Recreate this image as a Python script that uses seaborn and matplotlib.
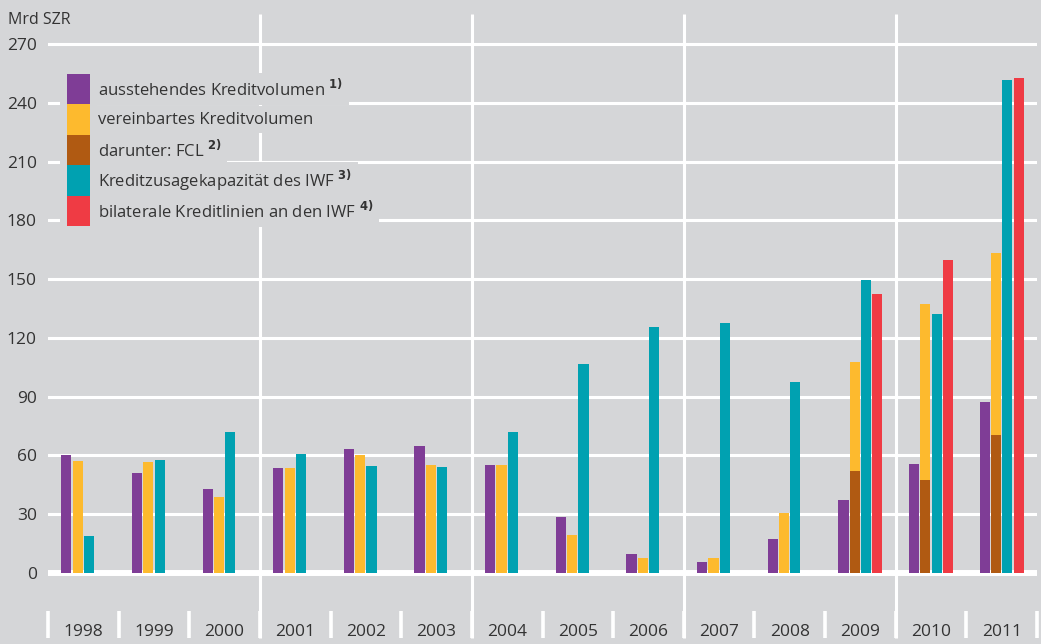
import numpy as np
import pandas as pd
import matplotlib
matplotlib.use("Agg")
import matplotlib.pyplot as plt
import seaborn as sns
from matplotlib.patches import Rectangle

nan = np.nan
years = [str(y) for y in range(1998, 2012)]
ausstehend = [60.2, 51, 42.9, 53.4, 63.5, 65, 55.3, 28.4, 9.7, 5.8, 17.4, 37.3, 55.5, 87.3]
vereinbart = [57.2, 56.5, 38.6, 53.4, 60.1, 55.3, 55.3, 19.4, 7.8, 7.8, 30.8, 107.9, 137.5, 163.3]
fcl = [nan] * 11 + [52.1, 47.5, 70.3]
kapazitaet = [18.9, 57.8, 71.8, 60.9, 54.6, 54.1, 72, 106.5, 125.4, 127.6, 97.5, 149.4, 132.2, 251.7]
bilateral = [nan] * 11 + [142.4, 159.8, 252.8]
yticks = list(range(0, 271, 30))

series_names = ["aus", "ver", "kap", "bil"]
legend_labels = [
    "ausstehendes Kreditvolumen $^{\\mathbf{1)}}$",
    "vereinbartes Kreditvolumen",
    "darunter: FCL $^{\\mathbf{2)}}$",
    "Kreditzusagekapazität des IWF $^{\\mathbf{3)}}$",
    "bilaterale Kreditlinien an den IWF $^{\\mathbf{4)}}$",
]

BG = "#d5d6d8"
PURPLE = "#7f3d96"
YELLOW = "#fdba2e"
BROWN = "#b05a12"
TEAL = "#00a1b1"
RED = "#ef3b44"
TXT = "#333333"

plt.rcParams["font.family"] = ["Open Sans", "DejaVu Sans"]

rows = []
for name, vals in zip(series_names, [ausstehend, vereinbart, kapazitaet, bilateral]):
    for y, v in zip(years, vals):
        if not np.isnan(v):
            rows.append({"year": y, "series": name, "value": v})
df = pd.DataFrame(rows)
df_fcl = pd.DataFrame([{"year": y, "series": "ver", "value": v}
                       for y, v in zip(years, fcl) if not np.isnan(v)])

W, H = 1041, 644
fig = plt.figure(figsize=(W / 100, H / 100), dpi=100, facecolor=BG)

# pixel geometry
x_left, x_right = 48, 1037
y0_px, scale = 573.0, 1.959
ymin = -(H - y0_px) / scale
ymax = y0_px / scale
ax = fig.add_axes([x_left / W, 0, (x_right - x_left) / W, 1])
ax.set_facecolor(BG)

def py(p):
    return (y0_px - p) / scale

# grid lines
for t in yticks[1:]:
    ax.axhline(t, color="white", lw=2.2, zorder=0.5)
ax.axhline(0, color="white", lw=4.3, zorder=0.5)
for xb in [2.5, 5.5, 8.5, 11.5]:
    ax.vlines(xb, py(638), py(14), color="white", lw=2.2, zorder=0.4, clip_on=False)
for i in range(len(years) + 1):
    ax.vlines(i - 0.5, py(638), py(611), color="white", lw=2.6, zorder=0.4, clip_on=False)

pal = {"aus": PURPLE, "ver": YELLOW, "kap": TEAL, "bil": RED}
sns.barplot(data=df, x="year", y="value", hue="series", order=years,
            hue_order=series_names, palette=pal, width=0.64, gap=0.1,
            saturation=1, linewidth=0, dodge=True, legend=False, ax=ax, zorder=2)
pal2 = dict(pal)
pal2["ver"] = BROWN
sns.barplot(data=df_fcl, x="year", y="value", hue="series", order=years,
            hue_order=series_names, palette=pal2, width=0.64, gap=0.1,
            saturation=1, linewidth=0, dodge=True, legend=False, ax=ax, zorder=3)

ax.set_xlim(-0.5, len(years) - 0.5)
ax.set_ylim(ymin, ymax)
ax.set_xlabel("")
ax.set_ylabel("")
ax.set_xticks([])
ax.set_yticks(yticks)
ax.set_yticklabels([str(t) for t in yticks])
ax.tick_params(axis="y", length=0, pad=8, labelsize=12.5, labelcolor=TXT)
for s in ax.spines.values():
    s.set_visible(False)

for i, y in enumerate(years):
    ax.text(i, py(632), y, ha="center", va="center", fontsize=12.5, color=TXT)

fig.text(8 / W, 1 - 20 / H, "Mrd SZR", ha="left", va="center", fontsize=11.5, color=TXT)

# legend (manual)
colors = [PURPLE, YELLOW, BROWN, TEAL, RED]
top, rh = 74, 30.4
fig.add_artist(Rectangle((60 / W, 1 - (top + 5 * rh + 4) / H), 37 / W, (5 * rh + 8) / H,
                         transform=fig.transFigure, fc=BG, ec="none", zorder=4))
for k, (c, lab) in enumerate(zip(colors, legend_labels)):
    yt = top + k * rh
    fig.add_artist(Rectangle((67 / W, 1 - (yt + rh) / H), 23 / W, rh / H,
                             transform=fig.transFigure, fc=c, ec="none", zorder=5))
    fig.text(98 / W, 1 - (yt + rh / 2) / H, lab, ha="left", va="center",
             fontsize=12, color=TXT, zorder=5,
             bbox=dict(boxstyle="square,pad=0.33", fc=BG, ec="none"))

fig.savefig("out.png", dpi=100, facecolor=BG)
